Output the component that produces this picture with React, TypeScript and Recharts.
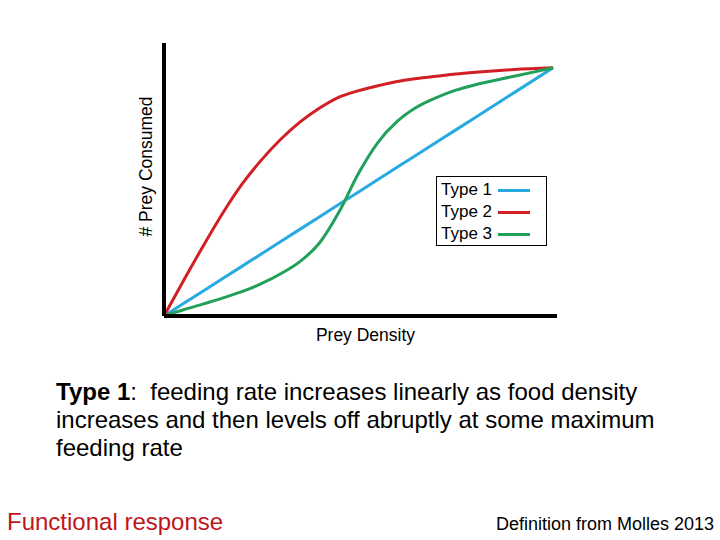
import React from "react";
import { LineChart, Line, XAxis, YAxis } from "recharts";

const preyDensity = [0, 0.5, 1, 1.5, 2, 2.5, 3, 3.5, 4, 4.5, 5, 5.5, 6, 6.5, 7, 7.5, 8, 9, 10];
const type1 = [0, 0.5, 1, 1.5, 2, 2.5, 3, 3.5, 4, 4.5, 5, 5.5, 6, 6.5, 7, 7.5, 8, 9, 10];
const type2 = [0, 1.42, 2.8, 4.12, 5.3, 6.28, 7.12, 7.82, 8.38, 8.82, 9.08, 9.28, 9.45, 9.57, 9.66, 9.75, 9.82, 9.93, 10];
const type3 = [0, 0.25, 0.48, 0.72, 0.98, 1.3, 1.7, 2.2, 2.95, 4.2, 5.75, 7.0, 7.85, 8.42, 8.8, 9.1, 9.32, 9.66, 10];

const seriesNames = ["Type 1", "Type 2", "Type 3"];
const seriesColors = ["#27aae1", "#d21f26", "#22a05a"];

const data = preyDensity.map((x, i) => ({
  x,
  t1: type1[i],
  t2: type2[i],
  t3: type3[i],
}));

const FONT = "'Liberation Sans', Arial, sans-serif";

const LegendBox = () => (
  <div
    style={{
      position: "absolute",
      left: 436,
      top: 176,
      border: "1px solid #000",
      background: "#fff",
      width: 111,
      height: 70,
      boxSizing: "border-box",
      padding: "2px 0 0 4px",
      fontFamily: FONT,
      fontSize: 17,
      color: "#000",
    }}
  >
    {seriesNames.map((n, i) => (
      <div key={n} style={{ display: "flex", alignItems: "center", height: 22, lineHeight: "22px" }}>
        <span style={{ width: 57 }}>{n}</span>
        <span style={{ display: "inline-block", width: 32, height: 3, background: seriesColors[i] }} />
      </div>
    ))}
  </div>
);

export default function App() {
  return (
    <div style={{ position: "absolute", left: 0, top: 0, width: 720, height: 540, background: "#fff", fontFamily: FONT }}>
      <div style={{ position: "absolute", left: 0, top: 0 }}>
        <LineChart
          width={720}
          height={540}
          data={data}
          margin={{ top: 43, left: 162, right: 163, bottom: 222 }}
        >
          <XAxis
            dataKey="x"
            type="number"
            domain={[0, 10.1]}
            height={2}
            tick={false}
            tickLine={false}
            axisLine={{ stroke: "#000", strokeWidth: 4 }}
            label={{ value: "Prey Density", position: "insideBottom", offset: -23, dx: 5, fill: "#000", fontSize: 17.5, fontFamily: FONT }}
          />
          <YAxis
            type="number"
            domain={[0, 11]}
            width={2}
            tick={false}
            tickLine={false}
            axisLine={{ stroke: "#000", strokeWidth: 4 }}
            label={{ value: "# Prey Consumed", angle: -90, position: "insideLeft", offset: -16, dy: -13, fill: "#000", fontSize: 17.5, fontFamily: FONT, style: { textAnchor: "middle" } }}
          />
          <Line dataKey="t1" name="Type 1" stroke={seriesColors[0]} strokeWidth={3} dot={false} type="linear" isAnimationActive={false} />
          <Line dataKey="t2" name="Type 2" stroke={seriesColors[1]} strokeWidth={3} dot={false} type="monotone" isAnimationActive={false} />
          <Line dataKey="t3" name="Type 3" stroke={seriesColors[2]} strokeWidth={3} dot={false} type="monotone" isAnimationActive={false} />
        </LineChart>
      </div>
      <LegendBox />
      <div
        style={{
          position: "absolute",
          left: 56,
          top: 378,
          width: 640,
          fontSize: 24,
          lineHeight: "28px",
          color: "#000",
        }}
      >
        <span style={{ fontWeight: "bold" }}>Type 1</span>:&nbsp; feeding rate increases linearly as food density increases and then levels off abruptly at some maximum feeding rate
      </div>
      <div style={{ position: "absolute", left: 7, top: 508, fontSize: 24, color: "#c0141c", lineHeight: "28px" }}>
        Functional response
      </div>
      <div style={{ position: "absolute", left: 496, top: 512, fontSize: 18, color: "#000", lineHeight: "24px" }}>
        Definition from Molles 2013
      </div>
    </div>
  );
}
